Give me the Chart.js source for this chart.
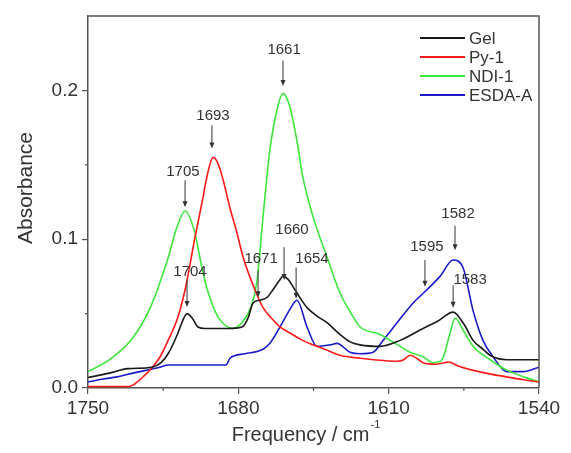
<!DOCTYPE html>
<html><head><meta charset="utf-8">
<script src="https://cdn.jsdelivr.net/npm/chart.js@4.4.1/dist/chart.umd.min.js"></script>
<style>html,body{margin:0;padding:0;background:#fff;}</style>
</head><body>
<canvas id="c" width="571" height="453"></canvas>
<script>
// ---- data (wavenumber / absorbance) ----
const seriesNames = ['Gel', 'Py-1', 'NDI-1', 'ESDA-A'];

const gelX = [1750, 1740, 1731.4, 1720.2, 1716, 1712.7, 1708.1, 1706, 1703.9, 1701.5, 1698.8, 1695.5, 1690, 1684.8, 1678.3, 1675.5, 1673.2, 1670, 1666.5, 1663.9, 1661, 1659.2, 1656.8, 1654.5, 1651, 1648, 1643, 1638.7, 1632.7, 1628, 1623.3, 1614, 1604.7, 1594, 1587, 1580, 1575, 1570.7, 1566, 1562.8, 1555, 1547, 1540];
const gelY = [0.007, 0.010, 0.013, 0.014, 0.017, 0.023, 0.037, 0.045, 0.050, 0.047, 0.041, 0.040, 0.040, 0.040, 0.041, 0.047, 0.057, 0.059, 0.061, 0.066, 0.072, 0.075, 0.073, 0.068, 0.060, 0.054, 0.048, 0.044, 0.036, 0.031, 0.029, 0.028, 0.032, 0.040, 0.045, 0.051, 0.043, 0.032, 0.026, 0.022, 0.019, 0.019, 0.019];

const pyX = [1750, 1740, 1731, 1728, 1724, 1720, 1716, 1712.7, 1708.5, 1704.8, 1700.2, 1697, 1694, 1691.8, 1689.5, 1687.1, 1683.9, 1680.6, 1677.8, 1674.6, 1670.8, 1668.5, 1664, 1660.6, 1656, 1650, 1645.2, 1638, 1632.7, 1623.3, 1617, 1606, 1603, 1600, 1597, 1594, 1588, 1584, 1582, 1578, 1571, 1563, 1555, 1547, 1540];
const pyY = [0.001, 0.001, 0.001, 0.003, 0.008, 0.014, 0.022, 0.032, 0.046, 0.066, 0.101, 0.124, 0.146, 0.155, 0.151, 0.140, 0.121, 0.104, 0.088, 0.0745, 0.061, 0.054, 0.046, 0.041, 0.037, 0.032, 0.029, 0.025, 0.022, 0.020, 0.019, 0.018, 0.019, 0.022, 0.020, 0.017, 0.016, 0.017, 0.0175, 0.015, 0.012, 0.0095, 0.0075, 0.0055, 0.004];

const ndiX = [1750, 1740, 1729, 1721, 1713, 1708.6, 1704.8, 1700.2, 1697, 1694, 1689.5, 1682.5, 1678.3, 1674, 1671.3, 1668.5, 1665.3, 1662, 1659.2, 1656, 1652.7, 1650, 1645.2, 1638.7, 1632.7, 1626.6, 1623.3, 1614, 1604.7, 1600, 1594, 1589.4, 1585.2, 1581.4, 1579.1, 1575.4, 1570.7, 1562.8, 1555, 1540];
const ndiY = [0.011, 0.019, 0.034, 0.054, 0.086, 0.108, 0.119, 0.104, 0.081, 0.064, 0.048, 0.040, 0.044, 0.055, 0.072, 0.115, 0.160, 0.187, 0.198, 0.189, 0.166, 0.142, 0.115, 0.088, 0.064, 0.048, 0.041, 0.036, 0.028, 0.024, 0.021, 0.017, 0.019, 0.037, 0.047, 0.039, 0.028, 0.019, 0.012, 0.004];

const esdaX = [1750, 1743, 1736.5, 1729, 1716.5, 1712.7, 1697.9, 1685.7, 1683.9, 1676.9, 1668.5, 1665.3, 1660.6, 1655.9, 1652.7, 1648, 1643.4, 1637.3, 1634.1, 1628, 1623.3, 1617.3, 1612.6, 1606, 1598.7, 1592.2, 1586.1, 1580, 1575.4, 1570.7, 1566.1, 1561.4, 1555, 1547.5, 1540];
const esdaY = [0.004, 0.006, 0.0075, 0.010, 0.014, 0.0155, 0.0155, 0.0155, 0.020, 0.023, 0.026, 0.030, 0.041, 0.053, 0.059, 0.041, 0.028, 0.029, 0.030, 0.024, 0.023, 0.024, 0.032, 0.044, 0.057, 0.066, 0.075, 0.086, 0.081, 0.052, 0.032, 0.021, 0.011, 0.011, 0.014];

// axis ticks
const xTickValues = [1750, 1680, 1610, 1540];
const xMinorTicks = [1715, 1645, 1575];
const yTickValues = [0.0, 0.1, 0.2];
const yMinorTicks = [0.05, 0.15];

// peak annotations: label, arrow wavenumber, arrow tail/tip absorbance, label anchor
const annLabels  = ['1661', '1693', '1705', '1704', '1671', '1660', '1654', '1595', '1582', '1583'];
const annArrowWn = [1659.2, 1692.3, 1704.8, 1703.9, 1670.8, 1658.7, 1653.1, 1593.1, 1579.1, 1580.0];
const annTail    = [0.220, 0.1765, 0.1396, 0.0725, 0.079, 0.0946, 0.081, 0.086, 0.109, 0.069];
const annTip     = [0.203, 0.161, 0.1215, 0.0544, 0.061, 0.0725, 0.060, 0.068, 0.0926, 0.054];
const annTextWn  = [1658.7, 1691.8, 1705.8, 1702.5, 1669.4, 1655.0, 1645.7, 1592.2, 1577.7, 1572.1];
const annTextAbs = [0.227, 0.183, 0.145, 0.078, 0.087, 0.106, 0.087, 0.0946, 0.117, 0.0725];

const colors = ['#1a1a1a', '#ff1a1a', '#3ee63e', '#1a1acc'];
const FONT = '"Liberation Sans", Arial, sans-serif';

function pts(xs, ys) { return xs.map((v, i) => ({x: v, y: ys[i]})); }

const decor = {
  id: 'decor',
  afterDatasetsDraw(chart) {
    const {ctx, chartArea: a, scales: {x, y}} = chart;
    ctx.save();
    // frame top/right
    ctx.strokeStyle = '#555'; ctx.lineWidth = 1.5;
    ctx.beginPath();
    ctx.moveTo(a.left, a.top); ctx.lineTo(a.right, a.top); ctx.lineTo(a.right, a.bottom);
    ctx.stroke();
    // minor ticks
    ctx.lineWidth = 1.2;
    ctx.beginPath();
    xMinorTicks.forEach(v => { const p = x.getPixelForValue(v); ctx.moveTo(p, a.bottom); ctx.lineTo(p, a.bottom + 3); });
    yMinorTicks.forEach(v => { const p = y.getPixelForValue(v); ctx.moveTo(a.left, p); ctx.lineTo(a.left - 3, p); });
    ctx.stroke();
    // annotations
    ctx.fillStyle = '#333'; ctx.strokeStyle = '#333'; ctx.lineWidth = 1;
    ctx.font = '15px ' + FONT; ctx.textAlign = 'center'; ctx.textBaseline = 'middle';
    annLabels.forEach((t, i) => {
      const ax = x.getPixelForValue(annArrowWn[i]);
      const y0 = y.getPixelForValue(annTail[i]);
      const y1 = y.getPixelForValue(annTip[i]);
      ctx.beginPath(); ctx.moveTo(ax, y0); ctx.lineTo(ax, y1 - 3); ctx.stroke();
      ctx.beginPath(); ctx.moveTo(ax, y1); ctx.lineTo(ax - 2.5, y1 - 6); ctx.lineTo(ax + 2.5, y1 - 6); ctx.closePath(); ctx.fill();
      ctx.fillText(t, x.getPixelForValue(annTextWn[i]), y.getPixelForValue(annTextAbs[i]));
    });
    // legend
    ctx.font = '17px ' + FONT; ctx.textAlign = 'left'; ctx.textBaseline = 'middle';
    chart.data.datasets.forEach((ds, i) => {
      const yy = a.top + 22 + i * 19;
      ctx.strokeStyle = ds.borderColor; ctx.lineWidth = 2;
      ctx.beginPath(); ctx.moveTo(a.right - 119, yy); ctx.lineTo(a.right - 74, yy); ctx.stroke();
      ctx.fillStyle = '#333';
      ctx.fillText(ds.label, a.right - 70, yy + 1);
    });
    // axis titles
    ctx.fillStyle = '#333';
    ctx.textBaseline = 'alphabetic';
    const main = 'Frequency / cm';
    ctx.font = '20px ' + FONT;
    const w1 = ctx.measureText(main).width;
    ctx.font = '11px ' + FONT;
    const w2 = ctx.measureText('-1').width;
    const cx = (a.left + a.right) / 2 - 8;
    const sx = cx - (w1 + w2) / 2;
    ctx.font = '20px ' + FONT; ctx.textAlign = 'left';
    ctx.fillText(main, sx, a.bottom + 53);
    ctx.font = '11px ' + FONT;
    ctx.fillText('-1', sx + w1 + 1, a.bottom + 40);
    ctx.save();
    ctx.translate(a.left - 62, a.top + 172);
    ctx.rotate(-Math.PI / 2);
    ctx.font = '21px ' + FONT; ctx.textAlign = 'center'; ctx.textBaseline = 'middle';
    ctx.fillText('Absorbance', 0, 0);
    ctx.restore();
    ctx.restore();
  }
};

const seriesX = [gelX, pyX, ndiX, esdaX];
const seriesY = [gelY, pyY, ndiY, esdaY];

new Chart(document.getElementById('c'), {
  type: 'line',
  data: {
    datasets: seriesNames.map((n, i) => ({
      label: n,
      data: pts(seriesX[i], seriesY[i]),
      borderColor: colors[i],
      borderWidth: 1.6,
      pointRadius: 0,
      fill: false,
      cubicInterpolationMode: 'monotone'
    }))
  },
  options: {
    responsive: false,
    devicePixelRatio: 1,
    animation: false,
    layout: {padding: {left: 0, top: 16, right: 32, bottom: 0}},
    plugins: {legend: {display: false}, tooltip: {enabled: false}},
    scales: {
      x: {
        type: 'linear', reverse: true, min: 1540, max: 1750,
        afterBuildTicks: s => { s.ticks = xTickValues.map(v => ({value: v})); },
        afterFit: s => { s.height = 65; },
        ticks: {callback: v => String(v), font: {family: FONT, size: 19}, color: '#333', padding: 3, maxRotation: 0, autoSkip: false},
        grid: {drawOnChartArea: false, drawTicks: true, tickLength: 6, color: '#555', lineWidth: 1.2},
        border: {color: '#555', width: 1.5}
      },
      y: {
        type: 'linear', min: 0, max: 0.25,
        afterBuildTicks: s => { s.ticks = yTickValues.map(v => ({value: v})); },
        afterFit: s => { s.width = 88; },
        ticks: {callback: v => v.toFixed(1), font: {family: FONT, size: 19}, color: '#333', padding: 4},
        grid: {drawOnChartArea: false, drawTicks: true, tickLength: 6, color: '#555', lineWidth: 1.2},
        border: {color: '#555', width: 1.5}
      }
    }
  },
  plugins: [decor]
});
</script>
</body></html>
